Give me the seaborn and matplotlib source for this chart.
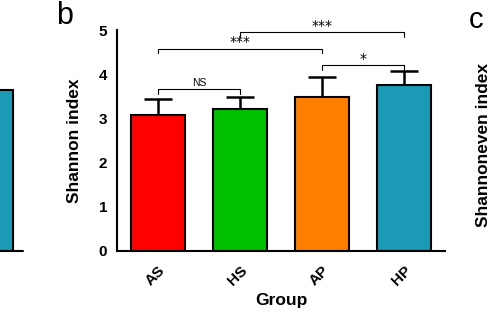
import numpy as np
import pandas as pd
import matplotlib
matplotlib.use("Agg")
import matplotlib.pyplot as plt
import seaborn as sns

sns.set_style("white")
plt.rcParams['font.family'] = ['Liberation Sans', 'DejaVu Sans']
plt.rcParams['text.color'] = 'black'
plt.rcParams['axes.labelcolor'] = 'black'
plt.rcParams['xtick.color'] = 'black'
plt.rcParams['ytick.color'] = 'black'

groups = ['AS', 'HS', 'AP', 'HP']
shannon = [3.08, 3.21, 3.48, 3.75]
sd = [0.35, 0.28, 0.45, 0.33]
colors = ['#ff0000', '#00c000', '#ff8000', '#1a9ab5']

# significance brackets: (left group, right group, bracket height, label)
brackets = [(0, 1, 3.66, 'NS'), (0, 2, 4.58, '***'), (1, 3, 4.95, '***'), (2, 3, 4.20, '*')]

# panel a remnant (only its last bar is visible at the left edge)
panel_a_groups = ['HP']
panel_a_values = [3.64]

df = pd.DataFrame({'Group': groups, 'Shannon': shannon})

fig = plt.figure(figsize=(5.0, 3.19), dpi=100)
ax = fig.add_axes([117 / 500, 1 - 251 / 319, 328 / 500, 221 / 319])

sns.barplot(data=df, x='Group', y='Shannon', hue='Group', palette=colors, saturation=1,
            width=0.67, edgecolor='black', linewidth=1.5, ax=ax, legend=False)
# upper-only error bars; the lower cap sits hidden behind the bar
ax.errorbar(np.arange(len(groups)), shannon, yerr=[np.zeros(len(sd)), sd],
            fmt='none', ecolor='black', elinewidth=1.8, capsize=10, capthick=1.8, zorder=0.5)

for i, j, h, lab in brackets:
    ax.plot([i, i, j, j], [h - 0.1, h, h, h - 0.1], color='black', lw=0.8)
    if lab == 'NS':
        ax.text((i + j) / 2, h + 0.03, lab, ha='center', va='bottom', fontsize=7.5)
    else:
        ax.text((i + j) / 2, h - 0.02, lab, ha='center', va='bottom', fontsize=10,
                family='DejaVu Sans')

ax.set_xlim(-0.5, 3.5)
ax.set_ylim(0, 5)
ax.set_yticks(range(6))
sns.despine(ax=ax)
for s in ['left', 'bottom']:
    ax.spines[s].set_linewidth(1.5)
    ax.spines[s].set_color('black')
ax.tick_params(axis='both', direction='out', length=5, width=1.5, labelsize=11)
ax.tick_params(axis='y', pad=2)
for t in ax.get_yticklabels():
    t.set_fontweight('bold')
plt.setp(ax.get_xticklabels(), rotation=45, ha='right', rotation_mode='anchor', fontweight='bold')
ax.set_xlabel('Group', fontsize=12.5, fontweight='bold', labelpad=4)
ax.set_ylabel('Shannon index', fontsize=12.5, fontweight='bold', labelpad=12)
fig.text(56 / 500, 1 - 16 / 319, 'b', fontsize=22, ha='left', va='center')

# neighbouring panels, cut off at the figure edges
ax_a = fig.add_axes([-55 / 500, 1 - 251 / 319, 82 / 500, 221 / 319])
sns.barplot(x=panel_a_groups, y=panel_a_values, color='#1a9ab5', saturation=1, width=0.67,
            edgecolor='black', linewidth=1.5, ax=ax_a)
ax_a.set_xlim(-0.5, 0.5)
ax_a.set_ylim(0, 5)
ax_a.axis('off')
ax_a.plot([0, 0.95], [0, 0], transform=ax_a.transAxes, color='black', lw=1.5, clip_on=False)

fig.text(476 / 500, 1 - 20 / 319, 'c', fontsize=21, ha='center', va='center')
fig.text(484 / 500, 1 - 145 / 319, 'Shannoneven index', fontsize=12.5, fontweight='bold',
         rotation=90, ha='center', va='center')

fig.savefig('out.png', dpi=100)
